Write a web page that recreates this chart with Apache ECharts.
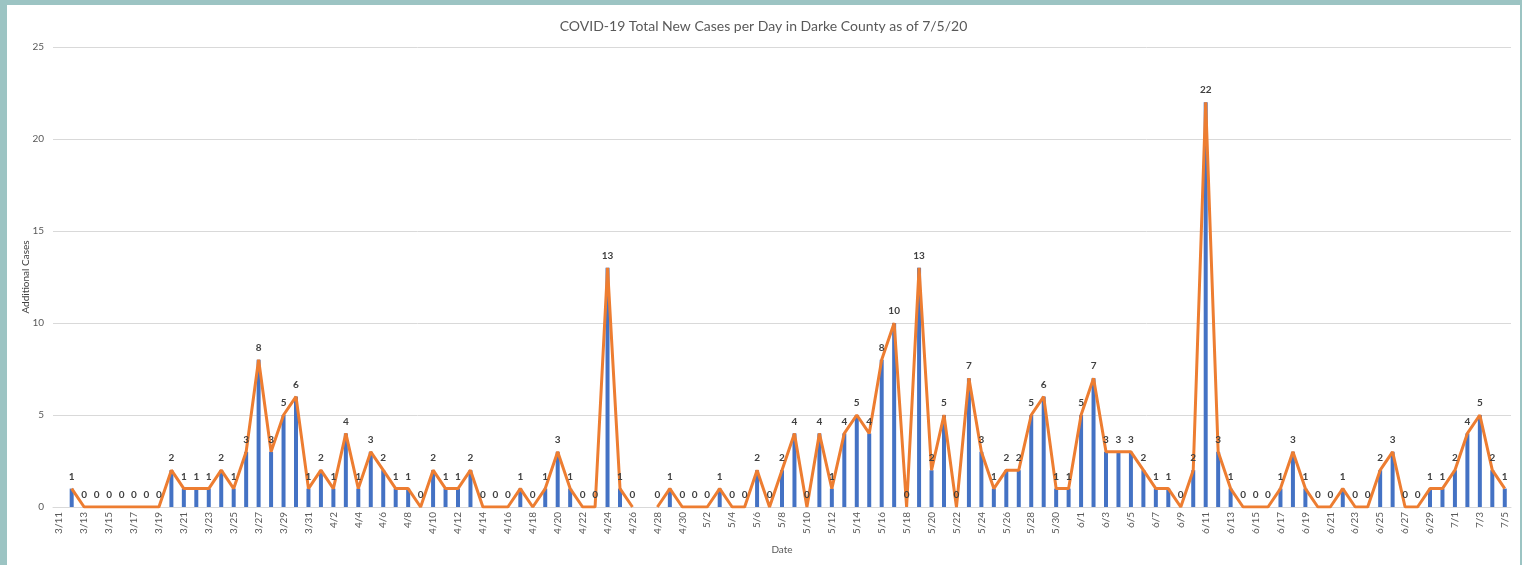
<!DOCTYPE html>
<html>
<head>
<meta charset="utf-8">
<script src="https://cdn.jsdelivr.net/npm/echarts@6/dist/echarts.min.js"></script>
<style>
  html, body { margin: 0; padding: 0; width: 1522px; height: 565px; overflow: hidden;
    background: #9cc4c3; }
  #panel { position: absolute; left: 7px; top: 5px; width: 1513px; height: 560px; background: #ffffff; }
  #chart { width: 100%; height: 100%; }
</style>
</head>
<body>
<div id="panel"><div id="chart"></div></div>
<script>
const titleText = 'COVID-19 Total New Cases per Day in Darke County as of 7/5/20';

const dates = [
  '3/11','3/12','3/13','3/14','3/15','3/16','3/17','3/18','3/19','3/20','3/21','3/22','3/23','3/24','3/25','3/26','3/27','3/28','3/29','3/30','3/31',
  '4/1','4/2','4/3','4/4','4/5','4/6','4/7','4/8','4/9','4/10','4/11','4/12','4/13','4/14','4/15','4/16','4/17','4/18','4/19','4/20','4/21','4/22','4/23','4/24','4/25','4/26','4/27','4/28','4/29','4/30',
  '5/1','5/2','5/3','5/4','5/5','5/6','5/7','5/8','5/9','5/10','5/11','5/12','5/13','5/14','5/15','5/16','5/17','5/18','5/19','5/20','5/21','5/22','5/23','5/24','5/25','5/26','5/27','5/28','5/29','5/30','5/31',
  '6/1','6/2','6/3','6/4','6/5','6/6','6/7','6/8','6/9','6/10','6/11','6/12','6/13','6/14','6/15','6/16','6/17','6/18','6/19','6/20','6/21','6/22','6/23','6/24','6/25','6/26','6/27','6/28','6/29','6/30',
  '7/1','7/2','7/3','7/4','7/5'
];

const marchCases = [null,1,0,0,0,0,0,0,0,2,1,1,1,2,1,3,8,3,5,6,1];
const aprilCases = [2,1,4,1,3,2,1,1,0,2,1,1,2,0,0,0,1,0,1,3,1,0,0,13,1,0,null,0,1,0];
const mayCases = [0,0,1,0,0,2,0,2,4,0,4,1,4,5,4,8,10,0,13,2,5,0,7,3,1,2,2,5,6,1,1];
const juneCases = [5,7,3,3,3,2,1,1,0,2,22,3,1,0,0,0,1,3,1,0,0,1,0,0,2,3,0,0,1,1];
const julyCases = [2,4,5,2,1];

const newCases = [].concat(marchCases, aprilCases, mayCases, juneCases, julyCases);

const yTicks = { min: 0, max: 25, interval: 5 };

const chart = echarts.init(document.getElementById('chart'), null, { renderer: 'canvas' });
chart.setOption({
  animation: false,
  title: {
    text: titleText,
    left: 'center',
    top: 9,
    textStyle: { fontFamily: 'Lato', fontSize: 14, fontWeight: 'normal', color: '#595959' }
  },
  grid: { left: 46, right: 9, top: 42, bottom: 58 },
  xAxis: {
    type: 'category',
    data: dates,
    boundaryGap: true,
    name: 'Date',
    nameLocation: 'middle',
    nameGap: 38,
    nameTextStyle: { fontFamily: 'Lato', fontSize: 10, color: '#595959' },
    axisLine: { lineStyle: { color: '#d9d9d9', width: 1 } },
    axisTick: { show: false },
    axisLabel: {
      interval: 1,
      rotate: 90,
      fontFamily: 'Lato',
      fontSize: 10,
      color: '#595959',
      margin: 5
    }
  },
  yAxis: {
    type: 'value',
    min: yTicks.min,
    max: yTicks.max,
    interval: yTicks.interval,
    name: 'Additional Cases',
    nameLocation: 'middle',
    nameGap: 22,
    nameMoveOverlap: false,
    nameRotate: 90,
    nameTextStyle: { fontFamily: 'Lato', fontSize: 10, color: '#404040' },
    axisLine: { show: false },
    axisTick: { show: false },
    splitLine: { lineStyle: { color: '#d9d9d9', width: 1 } },
    axisLabel: { fontFamily: 'Lato', fontSize: 10, color: '#595959', margin: 9 }
  },
  series: [
    {
      name: 'Bars',
      type: 'bar',
      data: newCases,
      barWidth: 4,
      itemStyle: { color: '#4472c4' },
      z: 2
    },
    {
      name: 'Line',
      type: 'line',
      data: newCases,
      connectNulls: false,
      showSymbol: true,
      symbol: 'circle',
      symbolSize: 0.1,
      lineStyle: { color: '#ed7d31', width: 3 },
      itemStyle: { color: '#ed7d31' },
      label: {
        show: true,
        position: 'top',
        distance: 7,
        fontFamily: 'Lato',
        fontSize: 10,
        fontWeight: 'bold',
        color: '#404040'
      },
      z: 3
    }
  ]
});
</script>
</body>
</html>
